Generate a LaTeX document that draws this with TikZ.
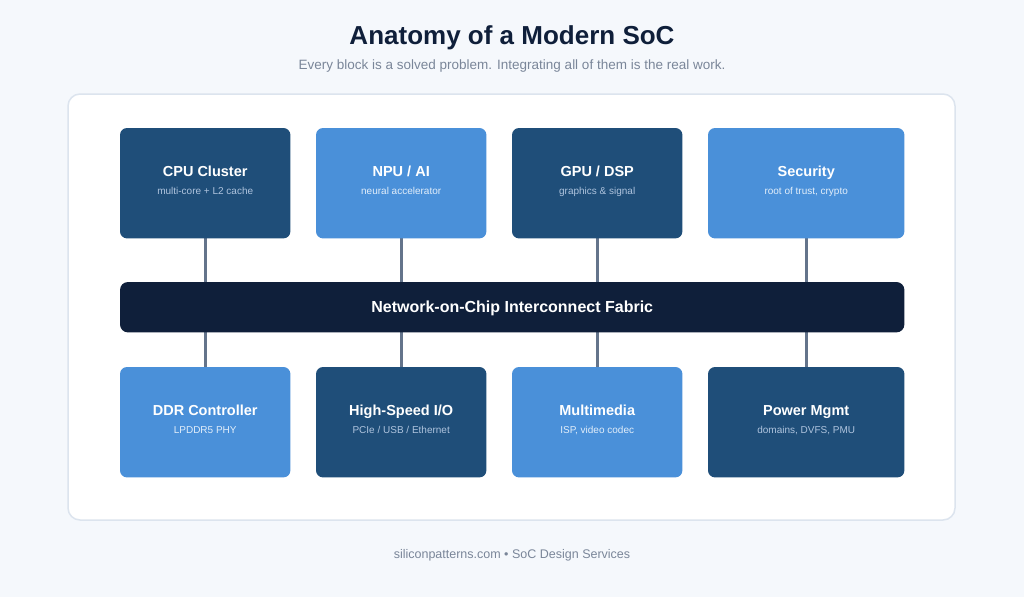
\documentclass[tikz,border=0pt]{standalone}
\usepackage{fontspec}
\setmainfont{Liberation Sans}
\definecolor{bgc}{HTML}{F5F8FC}
\definecolor{frame}{HTML}{DCE4EE}
\definecolor{darkb}{HTML}{1F4E79}
\definecolor{lightb}{HTML}{4A90D9}
\definecolor{fabric}{HTML}{0F1F3A}
\definecolor{titlec}{HTML}{0F1F3A}
\definecolor{subc}{HTML}{7A8699}
\definecolor{linkc}{HTML}{64748B}
\definecolor{darksub}{HTML}{AFC4DE}
\definecolor{lightsub}{HTML}{E2EEFA}
\begin{document}
\begin{tikzpicture}[x=1pt,y=-1pt,
  blk/.style={minimum height=110pt, inner sep=0pt, anchor=north west},
  ttl/.style={font=\fontsize{14.5}{16}\selectfont\bfseries, text=white, anchor=base, inner sep=0pt},
  subt/.style={font=\fontsize{10}{12}\selectfont, anchor=base, inner sep=0pt},
  link/.style={draw=linkc, line width=3pt},
  boxfill/.style={rounded corners=7pt}
]
\path[use as bounding box, fill=bgc] (0,0) rectangle (1024,597);
\draw[frame, fill=white, line width=1.5pt, rounded corners=12pt] (68,94) rectangle (955,520);

\node[titlec, font=\fontsize{26}{30}\selectfont\bfseries, anchor=base, inner sep=0pt] (title) at (512,44) {Anatomy of a Modern SoC};
\node[subc, font=\fontsize{13.5}{16}\selectfont, anchor=base, inner sep=0pt] (sub) at (512,69.5) {Every block is a solved problem. Integrating all of them is the real work.};
\node[subc, font=\fontsize{12.5}{15}\selectfont, anchor=base, inner sep=0pt] (foot) at (512,558.5) {siliconpatterns.com • SoC Design Services};

% block frames
\node[blk, minimum width=170pt] (cpu) at (120,128) {};
\node[blk, minimum width=170pt] (npu) at (316,128) {};
\node[blk, minimum width=170pt] (gpu) at (512,128) {};
\node[blk, minimum width=196pt] (sec) at (708,128) {};
\node[blk, minimum width=170pt] (ddr) at (120,367) {};
\node[blk, minimum width=170pt] (hsio) at (316,367) {};
\node[blk, minimum width=170pt] (mm) at (512,367) {};
\node[blk, minimum width=196pt] (pwr) at (708,367) {};
\node[minimum width=784pt, minimum height=50pt, anchor=north west, inner sep=0pt] (noc) at (120,282) {};

% links
\foreach \n/\x in {cpu/205, npu/401, gpu/597, sec/806}{
  \draw[link] (\n.south -| \x,0) -- (noc.north -| \x,0);
}
\foreach \n/\x in {ddr/205, hsio/401, mm/597, pwr/806}{
  \draw[link] (noc.south -| \x,0) -- (\n.north -| \x,0);
}

% fills
\foreach \n in {cpu,gpu,hsio,pwr}{
  \fill[darkb, boxfill] (\n.north west) rectangle (\n.south east);
}
\foreach \n in {npu,sec,ddr,mm}{
  \fill[lightb, boxfill] (\n.north west) rectangle (\n.south east);
}
\fill[fabric, rounded corners=8pt] (noc.north west) rectangle (noc.south east);
\node[text=white, font=\fontsize{16}{18}\selectfont\bfseries, anchor=base, inner sep=0pt] (noct) at ([yshift=-30.5pt]noc.north) {Network-on-Chip Interconnect Fabric};

% labels
\node[ttl] (cput) at ([yshift=-48.8pt]cpu.north) {CPU Cluster};
\node[subt, text=darksub] (cpus) at ([yshift=-66.5pt]cpu.north) {multi-core + L2 cache};
\node[ttl] (nput) at ([yshift=-48.8pt]npu.north) {NPU / AI};
\node[subt, text=lightsub] (npus) at ([yshift=-66.5pt]npu.north) {neural accelerator};
\node[ttl] (gput) at ([yshift=-48.8pt]gpu.north) {GPU / DSP};
\node[subt, text=darksub] (gpus) at ([yshift=-66.5pt]gpu.north) {graphics \& signal};
\node[ttl] (sect) at ([yshift=-48.8pt]sec.north) {Security};
\node[subt, text=lightsub] (secs) at ([yshift=-66.5pt]sec.north) {root of trust, crypto};

\node[ttl] (ddrt) at ([yshift=-48.3pt]ddr.north) {DDR Controller};
\node[subt, text=lightsub] (ddrs) at ([yshift=-66.8pt]ddr.north) {LPDDR5 PHY};
\node[ttl] (hsiot) at ([yshift=-48.3pt]hsio.north) {High-Speed I/O};
\node[subt, text=darksub] (hsios) at ([yshift=-66.8pt]hsio.north) {PCIe / USB / Ethernet};
\node[ttl] (mmt) at ([yshift=-48.3pt]mm.north) {Multimedia};
\node[subt, text=lightsub] (mms) at ([yshift=-66.8pt]mm.north) {ISP, video codec};
\node[ttl] (pwrt) at ([yshift=-48.3pt]pwr.north) {Power Mgmt};
\node[subt, text=darksub] (pwrs) at ([yshift=-66.8pt]pwr.north) {domains, DVFS, PMU};
\end{tikzpicture}
\end{document}
